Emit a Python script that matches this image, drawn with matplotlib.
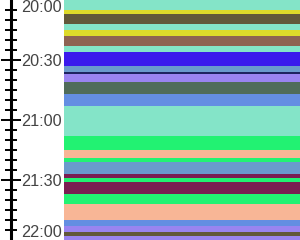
import matplotlib
matplotlib.use('Agg')
import matplotlib.pyplot as plt
from matplotlib.ticker import MultipleLocator

# Segments of the evening: start, end, category
starts = ['20:00', '20:05', '20:07', '20:12', '20:15', '20:18', '20:23', '20:26',
          '20:33', '20:36', '20:37', '20:41', '20:47', '20:53', '21:08', '21:15',
          '21:19', '21:21', '21:27', '21:29', '21:31', '21:37', '21:42', '21:50',
          '21:53', '21:56', '21:58']
ends = starts[1:] + ['22:00']
cats = ['teal', 'yellow', 'olive', 'teal', 'yellow', 'brown', 'teal', 'blue',
        'steel', 'navy', 'lavender', 'slate', 'cornflower', 'teal', 'green', 'peach',
        'green', 'steel', 'maroon', 'green', 'maroon', 'green', 'peach', 'cornflower',
        'lavender', 'olive', 'lavender']
palette = {
    'teal': '#84E4C8', 'yellow': '#DEDA2A', 'olive': '#62583A', 'brown': '#8E6252',
    'blue': '#3A1AEC', 'steel': '#6A9ACC', 'navy': '#1E2460', 'lavender': '#9A84F0',
    'slate': '#506C5A', 'cornflower': '#648EE2', 'green': '#22F272',
    'peach': '#F8B696', 'maroon': '#7A1E52',
}
tick_labels = ['20:00', '20:30', '21:00', '21:30', '22:00']


def minutes(s):
    h, m = s.split(':')
    return int(h) * 60 + int(m)


y0 = [minutes(s) for s in starts]
h = [minutes(e) - minutes(s) for s, e in zip(starts, ends)]
ticks = [minutes(t) for t in tick_labels]

fig = plt.figure(figsize=(3, 2.4), dpi=100)
ax = fig.add_axes([0, 0, 1, 1])

# pixel-like x units, bands start right of the labels
ax.barh(y0, 236, left=64, height=h, align='edge',
        color=[palette[c] for c in cats], linewidth=0)

ax.set_xlim(0, 300)
ax.set_ylim(ticks[-1], ticks[0])

for side in ['left', 'top', 'bottom']:
    ax.spines[side].set_visible(False)
ax.spines['right'].set_position(('data', 10.5))
ax.spines['right'].set_linewidth(2.2)
ax.xaxis.set_visible(False)
ax.yaxis.tick_right()

ax.set_yticks(ticks, tick_labels)
ax.yaxis.set_minor_locator(MultipleLocator(5))
ax.tick_params(axis='y', which='major', direction='inout', length=14.4, width=1.4,
               pad=0.2, labelsize=11.7, labelcolor='#444444')
ax.tick_params(axis='y', which='minor', direction='inout', length=8, width=1.4)
for lab in ax.get_yticklabels():
    lab.set_fontfamily('Liberation Sans')

# end labels are kept inside the frame, their ticks sit on the edge
major = ax.yaxis.get_major_ticks()
major[0].label2.set_va('top')
major[-1].label2.set_va('bottom')
major[0].tick2line.set_visible(False)
major[-1].tick2line.set_visible(False)

fig.savefig('out.png', dpi=100)
